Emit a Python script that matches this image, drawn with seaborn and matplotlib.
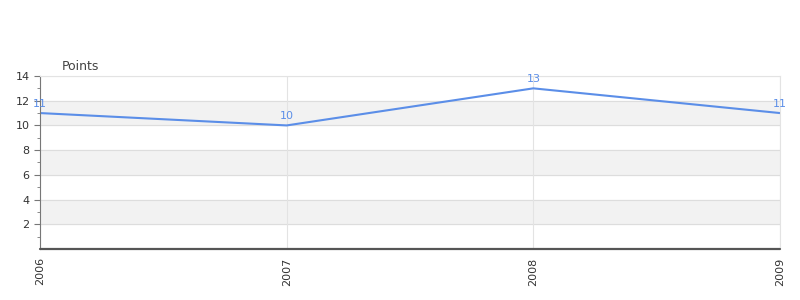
import matplotlib
matplotlib.use("Agg")
import matplotlib.pyplot as plt
import seaborn as sns
import pandas as pd

years = ["2006", "2007", "2008", "2009"]
points = [11, 10, 13, 11]

sns.set_style("white")
plt.rcParams['font.family'] = ['DejaVu Sans']

df = pd.DataFrame({"x": range(len(years)), "Points": points})

fig = plt.figure(figsize=(8, 3), dpi=100)
ax = fig.add_axes([0.05, 0.17, 0.925, 0.5767])

line_color = "#5b8ee8"
sns.lineplot(data=df, x="x", y="Points", ax=ax, color=line_color, linewidth=1.5)

ax.set_xlim(0, len(years) - 1)
ax.set_ylim(0, 14)

# alternating bands
for lo in (2, 6, 10):
    ax.axhspan(lo, lo + 2, color="#f2f2f2", zorder=0)
for y in range(2, 15, 2):
    ax.axhline(y, color="#dddddd", linewidth=0.8, zorder=0.5)
for i in range(len(years)):
    ax.axvline(i, color="#e3e3e3", linewidth=0.8, zorder=0.5)

ax.axhline(0, color="#555555", linewidth=1.6, zorder=3, clip_on=False)
ax.axhline(0.03, color="#cc0000", linewidth=0.6, zorder=4)

for i, v in enumerate(points):
    ax.annotate(str(v), (i, v), xytext=(0, 3), textcoords="offset points",
                ha="center", va="bottom", color=line_color, fontsize=8)

ax.set_xticks(range(len(years)))
ax.set_xticklabels(years, rotation=90, fontsize=8, color="#333333")
ax.set_yticks([2, 4, 6, 8, 10, 12, 14])
ax.set_yticks([1, 3, 5, 7, 9, 11, 13], minor=True)
ax.tick_params(axis="y", which="both", left=True)
ax.tick_params(axis="y", which="major", length=4, color="#777777", labelsize=8, labelcolor="#333333")
ax.tick_params(axis="y", which="minor", length=2, color="#777777")
ax.tick_params(axis="x", length=0, pad=6)
ax.set_xlabel("")
ax.set_ylabel("")

for s in ("top", "right"):
    ax.spines[s].set_color("#e3e3e3")
    ax.spines[s].set_linewidth(0.8)
ax.spines["left"].set_color("#777777")
ax.spines["bottom"].set_visible(False)

fig.text(62 / 800, 1 - 66 / 300, "Points", fontsize=9, color="#444444", va="center")

fig.savefig("out.png", dpi=100)
